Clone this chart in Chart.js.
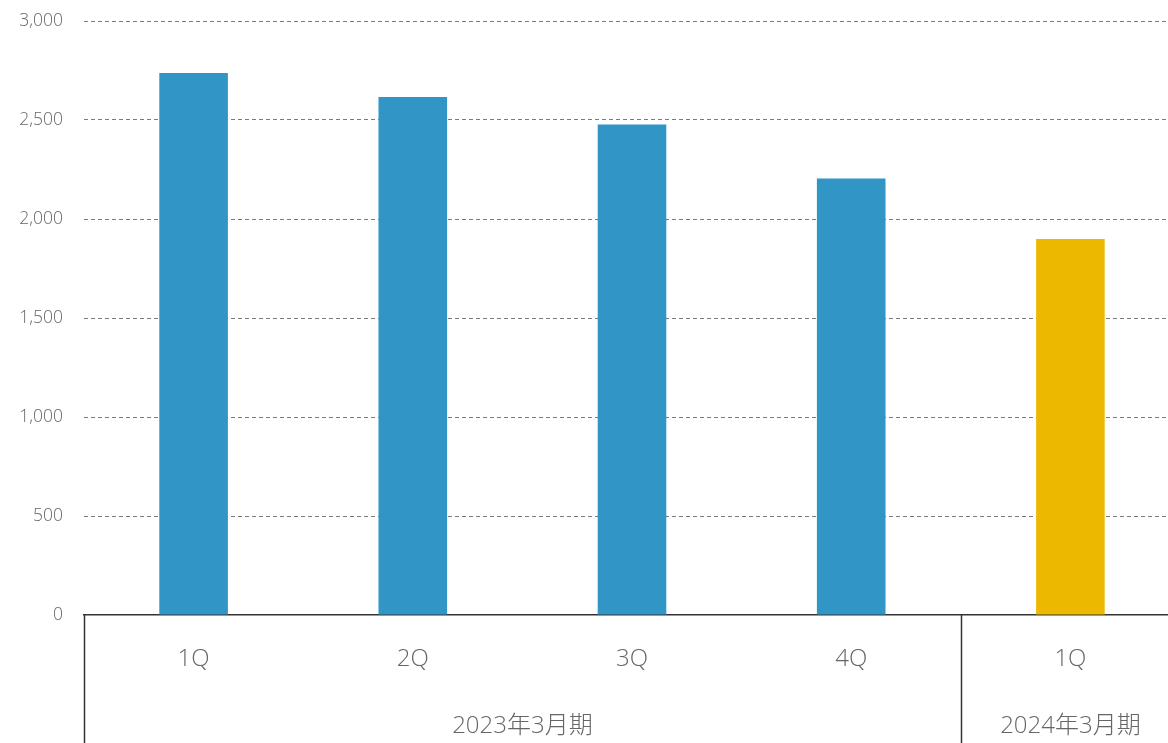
<!DOCTYPE html>
<html lang="ja">

<head>
    <meta charset="UTF-8">
    <title>四半期推移</title>
    <script src="https://cdn.jsdelivr.net/npm/chart.js"></script>
</head>

<style>
    body {
        margin: 0;
        padding: 0;
        background-color: #FFF;
        overflow: hidden;
    }

    .grafico {
        width: 1180px;
        height: 743px;
    }
</style>

<body>
    <div class="grafico">
        <canvas id="graficoTrimestral"></canvas>
    </div>
</body>

</html>

<script>
    // dados do gráfico
    const trimestres = ['1Q', '2Q', '3Q', '4Q', '1Q'];
    const anosFiscais = ['2023年3月期', '2024年3月期'];
    const grupoDoTrimestre = [0, 0, 0, 0, 1];
    const valores = [2737, 2616, 2477, 2205, 1899];
    const ticksY = [0, 500, 1000, 1500, 2000, 2500, 3000];

    const corAzul = '#3196c6';
    const corAmarela = '#ecb900';
    const fonte = '"Open Sans", "Noto Sans CJK JP", sans-serif';

    // centro de cada ano fiscal (média dos índices dos trimestres)
    const centrosAnos = anosFiscais.map(function (_, g) {
        let idx = grupoDoTrimestre.map((gr, i) => gr === g ? i : null).filter(i => i !== null);
        return idx.reduce((a, b) => a + b, 0) / idx.length;
    });
    // limites entre anos fiscais
    const limites = [-0.5];
    grupoDoTrimestre.forEach(function (g, i) {
        if (i > 0 && g !== grupoDoTrimestre[i - 1]) limites.push(i - 0.5);
    });

    const separadores = {
        id: 'separadores',
        afterDraw(chart) {
            const ctx = chart.ctx;
            const x2 = chart.scales.x2;
            ctx.save();
            ctx.strokeStyle = '#333';
            ctx.lineWidth = 1.5;
            limites.forEach(function (v) {
                let px = Math.round(x2.getPixelForValue(v)) + 0.5;
                ctx.beginPath();
                ctx.moveTo(px, chart.chartArea.bottom);
                ctx.lineTo(px, chart.height);
                ctx.stroke();
            });
            ctx.restore();
        }
    };

    const config = {
        type: 'bar',
        data: {
            labels: trimestres,
            datasets: [{
                data: valores,
                backgroundColor: grupoDoTrimestre.map(g => g === 0 ? corAzul : corAmarela),
                barPercentage: 0.313,
                categoryPercentage: 1
            }]
        },
        options: {
            responsive: true,
            maintainAspectRatio: false,
            animation: false,
            layout: { padding: { top: 21, left: 0, right: 0, bottom: 0 } },
            plugins: {
                legend: { display: false },
                tooltip: { enabled: false }
            },
            scales: {
                x: {
                    weight: 0,
                    grid: { display: false, drawTicks: false },
                    border: { display: true, color: '#333', width: 1.5 },
                    ticks: {
                        color: '#666',
                        padding: 30,
                        font: { family: fonte, size: 24, weight: 300 }
                    },
                    afterFit(scale) { scale.height = 75; }
                },
                x2: {
                    type: 'linear',
                    position: 'bottom',
                    weight: 1,
                    offset: false,
                    min: -0.5,
                    max: trimestres.length - 0.5,
                    grid: { display: false, drawTicks: false },
                    border: { display: false },
                    afterBuildTicks(scale) {
                        scale.ticks = centrosAnos.map(v => ({ value: v }));
                    },
                    ticks: {
                        autoSkip: false,
                        maxRotation: 0,
                        color: '#666',
                        padding: 22,
                        font: { family: fonte, size: 24, weight: 300 },
                        callback: function (valor, i) { return anosFiscais[i]; }
                    },
                    afterFit(scale) { scale.height = 53; }
                },
                y: {
                    min: 0,
                    max: 3000,
                    afterBuildTicks(scale) {
                        scale.ticks = ticksY.map(v => ({ value: v }));
                    },
                    border: { display: false, dash: [4, 3] },
                    grid: {
                        drawTicks: true,
                        tickLength: 20,
                        tickColor: 'transparent',
                        color: ctx => ctx.tick.value === 0 ? 'transparent' : '#7a7a7a',
                        lineWidth: 1
                    },
                    ticks: {
                        color: '#666',
                        padding: 1,
                        font: { family: fonte, size: 17.5, weight: 300 },
                        callback: v => v.toLocaleString('en-US')
                    },
                    afterFit(scale) { scale.width = 84; }
                }
            }
        },
        plugins: [separadores]
    };

    let grafico = new Chart(document.getElementById('graficoTrimestral'), config);
</script>
